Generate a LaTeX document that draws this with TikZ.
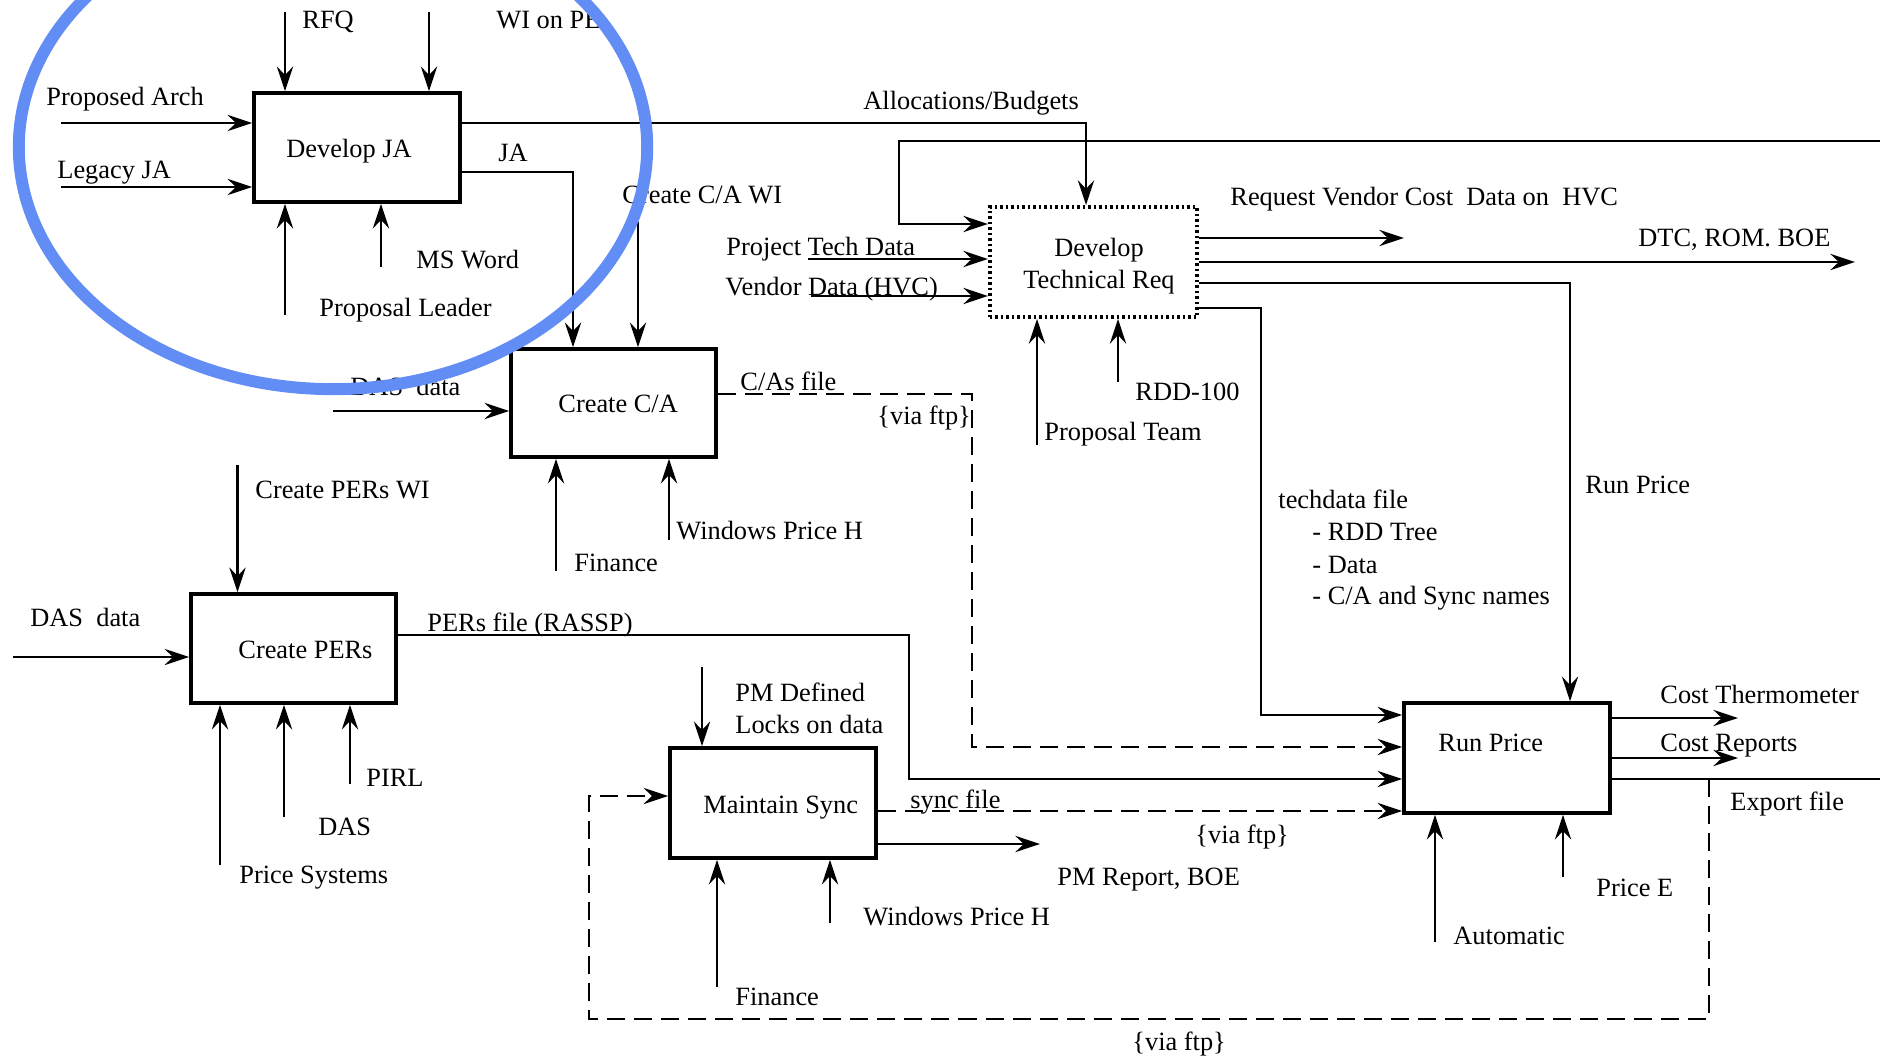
\documentclass[tikz,border=0pt]{standalone}
\usepackage{fontspec}
\setmainfont{Liberation Serif}
\usetikzlibrary{arrows.meta}
\definecolor{circblue}{RGB}{98,141,245}
\begin{document}
\begin{tikzpicture}[x=0.01cm,y=-0.01cm,
  font=\fontsize{7.5}{9}\selectfont,
  line width=0.8pt,
  box/.style={draw, line width=1pt, inner sep=0pt, rectangle},
  dbox/.style={draw, line width=1.1pt, dash pattern=on 0.025cm off 0.03cm, inner sep=0pt, rectangle},
  lab/.style={inner sep=0pt, anchor=west, text height=1.77mm, text depth=0pt},
  arr/.style={-{Stealth[length=7pt,width=4.6pt,inset=2.4pt]}},
  dsh/.style={dash pattern=on 0.18cm off 0.09cm},
]
\useasboundingbox (0,0) rectangle (1880,1058);
\clip (0,0) rectangle (1880,1058);

% ---------- boxes ----------
\node[box, minimum width=2.06cm, minimum height=1.09cm] (dja) at (357,147.5) {};
\node[box, minimum width=2.05cm, minimum height=1.08cm] (cca) at (613.5,403) {};
\node[dbox, minimum width=2.07cm, minimum height=1.10cm] (dtr) at (1093.5,262) {};
\node[box, minimum width=2.05cm, minimum height=1.09cm] (cpe) at (293.5,648.5) {};
\node[box, minimum width=2.06cm, minimum height=1.10cm] (mss) at (773,803) {};
\node[box, minimum width=2.06cm, minimum height=1.10cm] (rpr) at (1507,758) {};

% ---------- box texts ----------
\node[lab] (djaT) at (285,149) {Develop JA};
\node[lab] (ccaT) at (557,404) {Create C/A};
\node[lab] (dtrT1) at (1053,248) {Develop};
\node[lab] (dtrT2) at (1022,280) {Technical Req};
\node[lab] (cpeT) at (237,650) {Create PERs};
\node[lab] (mssT) at (702,805) {Maintain Sync};
\node[lab] (rprT) at (1437,743) {Run Price};

% ---------- Develop JA connectors ----------
\coordinate (rfqS) at (285,12);
\coordinate (wipS) at (429,12);
\coordinate (paS) at (61,123);
\coordinate (ljS) at (61,187);
\coordinate (plS) at (285,315);
\coordinate (mswS) at (381,267);
\draw[arr] (rfqS) -- (rfqS |- dja.north);
\draw[arr] (wipS) -- (wipS |- dja.north);
\draw[arr] (paS) -- (paS -| dja.west);
\draw[arr] (ljS) -- (ljS -| dja.west);
\draw[arr] (plS) -- (plS |- dja.south);
\draw[arr] (mswS) -- (mswS |- dja.south);
\coordinate (alT) at (1086,123);
\draw[arr] (alT -| dja.east) -- (alT) -- (alT |- dtr.north);
\coordinate (jaT) at (573,172);
\draw[arr] (jaT -| dja.east) -- (jaT) -- (jaT |- cca.north);

\node[lab] (rfqL) at (301,20) {RFQ};
\node[lab] (wipL) at (495,20) {WI on PE};
\node[lab] (paL) at (45,97) {Proposed Arch};
\node[lab] (ljL) at (56,170) {Legacy JA};
\node[lab] (jaL) at (497,153) {JA};
\node[lab] (mswL) at (415,260) {MS Word};
\node[lab] (plL) at (318,308) {Proposal Leader};
\node[lab] (alL) at (862,101) {Allocations/Budgets};

% ---------- Create C/A connectors ----------
\coordinate (cawS) at (638,222);
\coordinate (dasS) at (333,411);
\coordinate (finS) at (556,571);
\coordinate (wphS) at (669,540);
\draw[arr] (cawS) -- (cawS |- cca.north);
\draw[arr] (dasS) -- (dasS -| cca.west);
\draw[arr] (finS) -- (finS |- cca.south);
\draw[arr] (wphS) -- (wphS |- cca.south);
\coordinate (caT1) at (972,394);
\coordinate (caT2) at (972,747);
\draw[arr,dsh] (caT1 -| cca.east) -- (caT1) -- (caT2) -- (caT2 -| rpr.west);

\node[lab] (cawL) at (621,195) {Create C/A WI};
\node[lab] (dasL) at (349,387) {DAS\enspace data};
\node[lab] (cafL) at (739,382) {C/As file};
\node[lab] (vf1L) at (876,416) {\{via ftp\}};
\node[lab] (finL) at (573,563) {Finance};
\node[lab] (wphL) at (675,531) {Windows Price H};

% ---------- Develop Technical Req connectors ----------
\coordinate (fbS) at (1880,141);
\coordinate (fbT1) at (899,141);
\coordinate (fbT2) at (899,224);
\draw[arr] (fbS) -- (fbT1) -- (fbT2) -- (fbT2 -| dtr.west);
\coordinate (ptdS) at (808,259);
\coordinate (vdS) at (811,296);
\draw[arr] (ptdS) -- (ptdS -| dtr.west);
\draw[arr] (vdS) -- (vdS -| dtr.west);
\coordinate (rvE) at (1404,238);
\coordinate (dtcE) at (1855,262);
\draw[arr] (rvE -| dtr.east) -- (rvE);
\draw[arr] (dtcE -| dtr.east) -- (dtcE);
\coordinate (rpT) at (1570,283);
\draw[arr] (rpT -| dtr.east) -- (rpT) -- (rpT |- rpr.north);
\coordinate (tdT1) at (1261,308);
\coordinate (tdT2) at (1261,715);
\draw[arr] (tdT1 -| dtr.east) -- (tdT1) -- (tdT2) -- (tdT2 -| rpr.west);
\coordinate (ptS) at (1037,445);
\coordinate (rddS) at (1118,382);
\draw[arr] (ptS) -- (ptS |- dtr.south);
\draw[arr] (rddS) -- (rddS |- dtr.south);

\node[lab] (ptdL) at (725,247) {Project Tech Data};
\node[lab] (vdL) at (724,287) {Vendor Data (HVC)};
\node[lab] (rvL) at (1229,197) {Request Vendor Cost\enspace Data on\enspace HVC};
\node[lab] (dtcL) at (1637,238) {DTC, ROM. BOE};
\node[lab] (ptL) at (1043,432) {Proposal Team};
\node[lab] (rddL) at (1134,392) {RDD-100};
\node[lab] (rpL) at (1584,485) {Run Price};
\node[lab] (td1L) at (1277,500) {techdata file};
\node[lab] (td2L) at (1311,532) {- RDD Tree};
\node[lab] (td3L) at (1311,565) {- Data};
\node[lab] (td4L) at (1311,596) {- C/A and Sync names};

% ---------- Create PERs connectors ----------
\coordinate (cpwS) at (237.5,465);
\coordinate (das2S) at (13,657);
\coordinate (psS) at (220,865);
\coordinate (dasbS) at (284,817);
\coordinate (pirlS) at (350,784);
\draw[arr] (cpwS) -- (cpwS |- cpe.north);
\draw[arr] (das2S) -- (das2S -| cpe.west);
\draw[arr] (psS) -- (psS |- cpe.south);
\draw[arr] (dasbS) -- (dasbS |- cpe.south);
\draw[arr] (pirlS) -- (pirlS |- cpe.south);
\coordinate (pfT1) at (909,635);
\coordinate (pfT2) at (909,779);
\draw[arr] (pfT1 -| cpe.east) -- (pfT1) -- (pfT2) -- (pfT2 -| rpr.west);

\node[lab] (cpwL) at (254,490) {Create PERs WI};
\node[lab] (das2L) at (29,618) {DAS\enspace data};
\node[lab] (pfL) at (426,623) {PERs file (RASSP)};
\node[lab] (pirlL) at (365,778) {PIRL};
\node[lab] (dasbL) at (317,827) {DAS};
\node[lab] (psL) at (238,875) {Price Systems};

% ---------- Maintain Sync connectors ----------
\coordinate (pmdS) at (702,667);
\draw[arr] (pmdS) -- (pmdS |- mss.north);
\coordinate (lpA) at (1709,779);
\coordinate (lpB) at (1709,1019);
\coordinate (lpC) at (589,1019);
\coordinate (lpD) at (589,796);
\draw[arr,dsh] (lpA) -- (lpB) -- (lpC) -- (lpD) -- (lpD -| mss.west);
\coordinate (syY) at (1000,811);
\draw[arr,dsh] (syY -| mss.east) -- (syY -| rpr.west);
\coordinate (pmrE) at (1040,844);
\draw[arr] (pmrE -| mss.east) -- (pmrE);
\coordinate (fin2S) at (717,987);
\coordinate (wph2S) at (830,923);
\draw[arr] (fin2S) -- (fin2S |- mss.south);
\draw[arr] (wph2S) -- (wph2S |- mss.south);

\node[lab] (pmd1L) at (734,693) {PM Defined};
\node[lab] (pmd2L) at (734,725) {Locks on data};
\node[lab] (sfL) at (909,800) {sync file};
\node[lab] (vf2L) at (1194,835) {\{via ftp\}};
\node[lab] (pmrL) at (1056,877) {PM Report, BOE};
\node[lab] (wph2L) at (862,917) {Windows Price H};
\node[lab] (fin2L) at (734,997) {Finance};
\node[lab] (vf3L) at (1131,1042) {\{via ftp\}};

% ---------- Run Price connectors ----------
\coordinate (exE) at (1880,779);
\draw (exE -| rpr.east) -- (exE);
\coordinate (ctE) at (1738,718);
\coordinate (crE) at (1738,758);
\draw[arr] (ctE -| rpr.east) -- (ctE);
\draw[arr] (crE -| rpr.east) -- (crE);
\coordinate (autS) at (1435,942);
\coordinate (peS) at (1563,877);
\draw[arr] (autS) -- (autS |- rpr.south);
\draw[arr] (peS) -- (peS |- rpr.south);

\node[lab] (ctL) at (1659,695) {Cost Thermometer};
\node[lab] (crL) at (1659,743) {Cost Reports};
\node[lab] (exL) at (1729,802) {Export file};
\node[lab] (peL) at (1595,888) {Price E};
\node[lab] (autL) at (1452,936) {Automatic};

% ---------- highlight ellipse ----------
\draw[circblue, line width=3.4pt] (333,147) ellipse [x radius=3.14cm, y radius=2.42cm];
\end{tikzpicture}
\end{document}
